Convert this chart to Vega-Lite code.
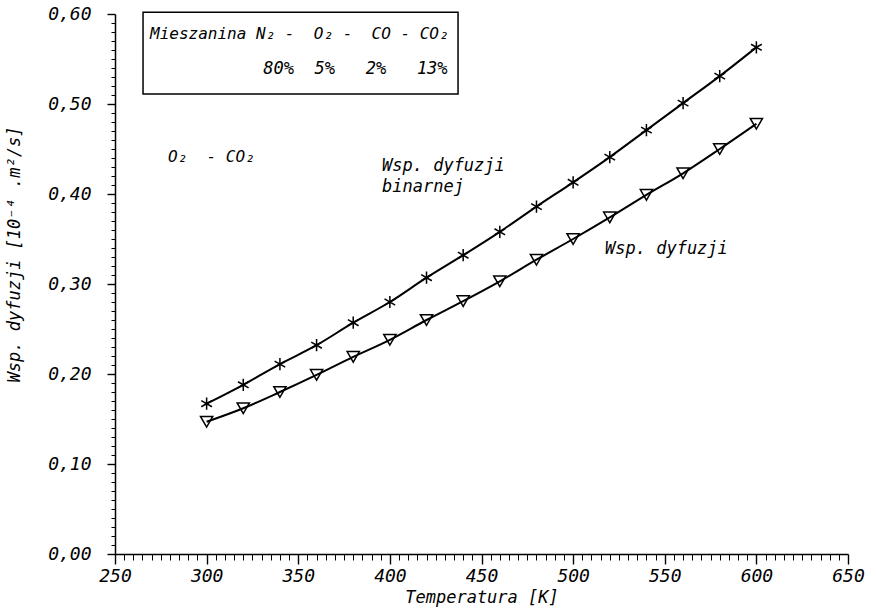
{
  "$schema": "https://vega.github.io/schema/vega-lite/v6.json",
  "width": 733,
  "height": 540,
  "autosize": {"type": "none"},
  "padding": {"left": 115, "top": 14, "right": 28, "bottom": 62},
  "background": "white",
  "config": {
    "view": {"stroke": null},
    "font": "DejaVu Sans Mono",
    "axis": {"labelFont": "DejaVu Sans Mono", "titleFont": "DejaVu Sans Mono", "labelFontStyle": "italic", "titleFontStyle": "italic", "labelColor": "black", "titleColor": "black", "domainColor": "black", "tickColor": "black", "grid": false, "labelFontSize": 18, "titleFontSize": 17, "titleFontWeight": "normal", "labelFlush": false, "labelOverlap": false, "labelBound": false, "domainWidth": 1.5}
  },
  "datasets": {
    "curves": [
      {"T": 300, "D": 0.167, "series": "binarny"},
      {"T": 320, "D": 0.188, "series": "binarny"},
      {"T": 340, "D": 0.211, "series": "binarny"},
      {"T": 360, "D": 0.232, "series": "binarny"},
      {"T": 380, "D": 0.257, "series": "binarny"},
      {"T": 400, "D": 0.280, "series": "binarny"},
      {"T": 420, "D": 0.307, "series": "binarny"},
      {"T": 440, "D": 0.332, "series": "binarny"},
      {"T": 460, "D": 0.358, "series": "binarny"},
      {"T": 480, "D": 0.386, "series": "binarny"},
      {"T": 500, "D": 0.413, "series": "binarny"},
      {"T": 520, "D": 0.441, "series": "binarny"},
      {"T": 540, "D": 0.471, "series": "binarny"},
      {"T": 560, "D": 0.501, "series": "binarny"},
      {"T": 580, "D": 0.531, "series": "binarny"},
      {"T": 600, "D": 0.563, "series": "binarny"},
      {"T": 300, "D": 0.147, "series": "mieszanina"},
      {"T": 320, "D": 0.162, "series": "mieszanina"},
      {"T": 340, "D": 0.180, "series": "mieszanina"},
      {"T": 360, "D": 0.199, "series": "mieszanina"},
      {"T": 380, "D": 0.219, "series": "mieszanina"},
      {"T": 400, "D": 0.238, "series": "mieszanina"},
      {"T": 420, "D": 0.260, "series": "mieszanina"},
      {"T": 440, "D": 0.281, "series": "mieszanina"},
      {"T": 460, "D": 0.303, "series": "mieszanina"},
      {"T": 480, "D": 0.327, "series": "mieszanina"},
      {"T": 500, "D": 0.350, "series": "mieszanina"},
      {"T": 520, "D": 0.374, "series": "mieszanina"},
      {"T": 540, "D": 0.399, "series": "mieszanina"},
      {"T": 560, "D": 0.423, "series": "mieszanina"},
      {"T": 580, "D": 0.450, "series": "mieszanina"},
      {"T": 600, "D": 0.478, "series": "mieszanina"}
    ],
    "one": [{"k": 1}]
  },
  "layer": [
    {
      "data": {"name": "curves"},
      "mark": {"type": "line", "interpolate": "monotone", "color": "black", "strokeWidth": 2},
      "encoding": {
        "x": {"field": "T", "type": "quantitative", "scale": {"domain": [250, 650], "nice": false, "zero": false},
          "axis": {"orient": "bottom", "tickCount": 500, "values": [250,255,260,265,270,275,280,285,290,295,300,305,310,315,320,325,330,335,340,345,350,355,360,365,370,375,380,385,390,395,400,405,410,415,420,425,430,435,440,445,450,455,460,465,470,475,480,485,490,495,500,505,510,515,520,525,530,535,540,545,550,555,560,565,570,575,580,585,590,595,600,605,610,615,620,625,630,635,640,645,650],
            "labelExpr": "datum.value % 50 === 0 ? datum.value : ''",
            "tickSize": {"condition": {"test": "datum.value % 50 === 0", "value": 10}, "value": 6},
            "tickWidth": {"condition": {"test": "datum.value % 50 === 0", "value": 1.4}, "value": 1},
            "labelPadding": 3, "title": "Temperatura [K]", "titlePadding": 4}},
        "y": {"field": "D", "type": "quantitative", "scale": {"domain": [0, 0.6], "nice": false},
          "axis": {"orient": "left", "tickCount": 500, "values": [0,0.01,0.02,0.03,0.04,0.05,0.06,0.07,0.08,0.09,0.1,0.11,0.12,0.13,0.14,0.15,0.16,0.17,0.18,0.19,0.2,0.21,0.22,0.23,0.24,0.25,0.26,0.27,0.28,0.29,0.3,0.31,0.32,0.33,0.34,0.35,0.36,0.37,0.38,0.39,0.4,0.41,0.42,0.43,0.44,0.45,0.46,0.47,0.48,0.49,0.5,0.51,0.52,0.53,0.54,0.55,0.56,0.57,0.58,0.59,0.6],
            "labelExpr": "abs(datum.value * 10 - round(datum.value * 10)) < 0.001 ? replace(format(datum.value, '.2f'), '.', ',') : ''",
            "tickSize": {"condition": {"test": "abs(datum.value * 10 - round(datum.value * 10)) < 0.001", "value": 8}, "value": 4},
            "tickWidth": {"condition": {"test": "abs(datum.value * 10 - round(datum.value * 10)) < 0.001", "value": 1.4}, "value": 1},
            "labelPadding": 16, "title": "Wsp.\u00a0dyfuzji\u00a0[10⁻⁴\u00a0.m²/s]", "titlePadding": 24, "titleY": 240}},
        "detail": {"field": "series"}
      }
    },
    {
      "data": {"name": "curves"},
      "mark": {"type": "point", "filled": false, "color": "black", "strokeWidth": 1.5, "opacity": 1},
      "encoding": {
        "x": {"field": "T", "type": "quantitative", "scale": {"domain": [250, 650], "nice": false, "zero": false}},
        "y": {"field": "D", "type": "quantitative", "scale": {"domain": [0, 0.6], "nice": false}},
        "shape": {"field": "series", "type": "nominal", "scale": {"domain": ["binarny", "mieszanina"], "range": ["M0,-1L0,1M-0.87,-0.5L0.87,0.5M-0.87,0.5L0.87,-0.5", "triangle-down"]}, "legend": null},
        "size": {"field": "series", "type": "nominal", "scale": {"domain": ["binarny", "mieszanina"], "range": [150, 150]}, "legend": null}
      }
    },
    {
      "data": {"name": "one"},
      "mark": {"type": "rect", "fill": "white", "fillOpacity": 0, "stroke": "black", "strokeWidth": 1.5},
      "encoding": {
        "x": {"datum": 265.3, "type": "quantitative"},
        "x2": {"datum": 437.2},
        "y": {"datum": 0.602, "type": "quantitative"},
        "y2": {"datum": 0.511}
      }
    },
    {
      "data": {"name": "one"},
      "mark": {"type": "text", "align": "left", "baseline": "middle", "fontSize": 16, "fontStyle": "italic", "color": "black", "text": "Mieszanina N₂ -\u00a0 O₂ -\u00a0 CO - CO₂"},
      "encoding": {
        "x": {"datum": 269.1, "type": "quantitative"},
        "y": {"datum": 0.578, "type": "quantitative"}
      }
    },
    {
      "data": {"name": "one"},
      "mark": {"type": "text", "align": "right", "baseline": "middle", "fontSize": 17, "fontStyle": "italic", "color": "black", "text": "80%\u00a0\u00a05%\u00a0\u00a0\u00a02%\u00a0\u00a0\u00a013%"},
      "encoding": {
        "x": {"datum": 431.5, "type": "quantitative"},
        "y": {"datum": 0.539, "type": "quantitative"}
      }
    },
    {
      "data": {"name": "one"},
      "mark": {"type": "text", "align": "left", "baseline": "middle", "fontSize": 16, "fontStyle": "italic", "color": "black", "text": "O₂\u00a0 - CO₂"},
      "encoding": {
        "x": {"datum": 278.9, "type": "quantitative"},
        "y": {"datum": 0.441, "type": "quantitative"}
      }
    },
    {
      "data": {"name": "one"},
      "mark": {"type": "text", "align": "left", "baseline": "middle", "fontSize": 17, "fontStyle": "italic", "color": "black", "lineHeight": 21, "text": ["Wsp. dyfuzji", "binarnej"]},
      "encoding": {
        "x": {"datum": 395.7, "type": "quantitative"},
        "y": {"datum": 0.431, "type": "quantitative"}
      }
    },
    {
      "data": {"name": "one"},
      "mark": {"type": "text", "align": "left", "baseline": "middle", "fontSize": 17, "fontStyle": "italic", "color": "black", "text": "Wsp. dyfuzji"},
      "encoding": {
        "x": {"datum": 517.4, "type": "quantitative"},
        "y": {"datum": 0.339, "type": "quantitative"}
      }
    }
  ]
}
